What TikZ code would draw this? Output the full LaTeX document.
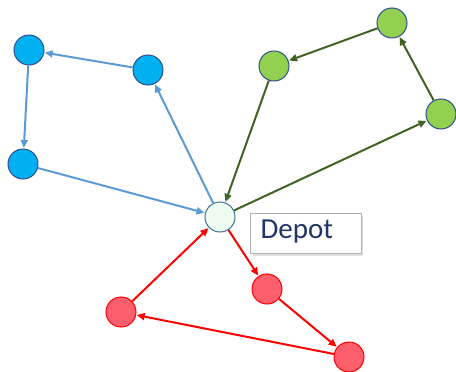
\documentclass[tikz,border=0pt]{standalone}
\usepackage{fontspec}
\setmainfont{Carlito}
\usetikzlibrary{arrows.meta}
\definecolor{bluefill}{HTML}{00B0F0}
\definecolor{blueline}{HTML}{5B9BD5}
\definecolor{greenfill}{HTML}{92D050}
\definecolor{greenline}{HTML}{3F6323}
\definecolor{redfill}{HTML}{FF5F6D}
\definecolor{redline}{HTML}{FF0000}
\definecolor{rim}{HTML}{2F4F8F}
\definecolor{depotfill}{HTML}{EDFCEF}
\definecolor{depotrim}{HTML}{41719C}
\definecolor{labeltext}{HTML}{1F3468}
\tikzset{
  stop/.style={circle, minimum size=30pt, inner sep=0pt, line width=1pt},
  bluestop/.style={stop, fill=bluefill, draw=rim},
  greenstop/.style={stop, fill=greenfill, draw=rim},
  redstop/.style={stop, fill=redfill, draw=redline},
  route/.style={line width=2pt, -{Triangle[length=8pt,width=7pt]}, shorten >=0.5pt},
  blueroute/.style={route, draw=blueline},
  greenroute/.style={route, draw=greenline},
  redroute/.style={route, draw=redline},
}
\begin{document}
\begin{tikzpicture}[x=1pt, y=-1pt]
  \useasboundingbox (0,0) rectangle (456,372);

  % depot and its label
  \node[stop, fill=depotfill, draw=depotrim] (depot) at (220,217) {};
  \fill[black!12] (253,216) rectangle (363,256);
  \node[draw=black!30, fill=white, line width=0.8pt, minimum width=111pt, minimum height=40pt,
        anchor=north west, inner sep=0pt] (label) at (250,213) {};
  \node[text=labeltext, font=\fontsize{29}{32}\selectfont, anchor=west] (labeltxt) at (257,232) {Depot};

  % blue tour
  \node[bluestop] (b1) at (148,70) {};
  \node[bluestop] (b2) at (29,50) {};
  \node[bluestop] (b3) at (23,164) {};
  \draw[blueroute] (depot) -- (b1);
  \draw[blueroute] (b1) -- (b2);
  \draw[blueroute] (b2) -- (b3);
  \draw[blueroute] (b3) -- (depot);

  % green tour
  \node[greenstop] (g1) at (441,114) {};
  \node[greenstop] (g2) at (392,23) {};
  \node[greenstop] (g3) at (274,66) {};
  \draw[greenroute] (depot) -- (g1);
  \draw[greenroute] (g1) -- (g2);
  \draw[greenroute] (g2) -- (g3);
  \draw[greenroute] (g3) -- (depot);

  % red tour
  \node[redstop] (r1) at (267,289) {};
  \node[redstop] (r2) at (349,357) {};
  \node[redstop] (r3) at (121,312) {};
  \draw[redroute] (depot) -- (r1);
  \draw[redroute] (r1) -- (r2);
  \draw[redroute] (r2) -- (r3);
  \draw[redroute] (r3) -- (depot);
\end{tikzpicture}
\end{document}
